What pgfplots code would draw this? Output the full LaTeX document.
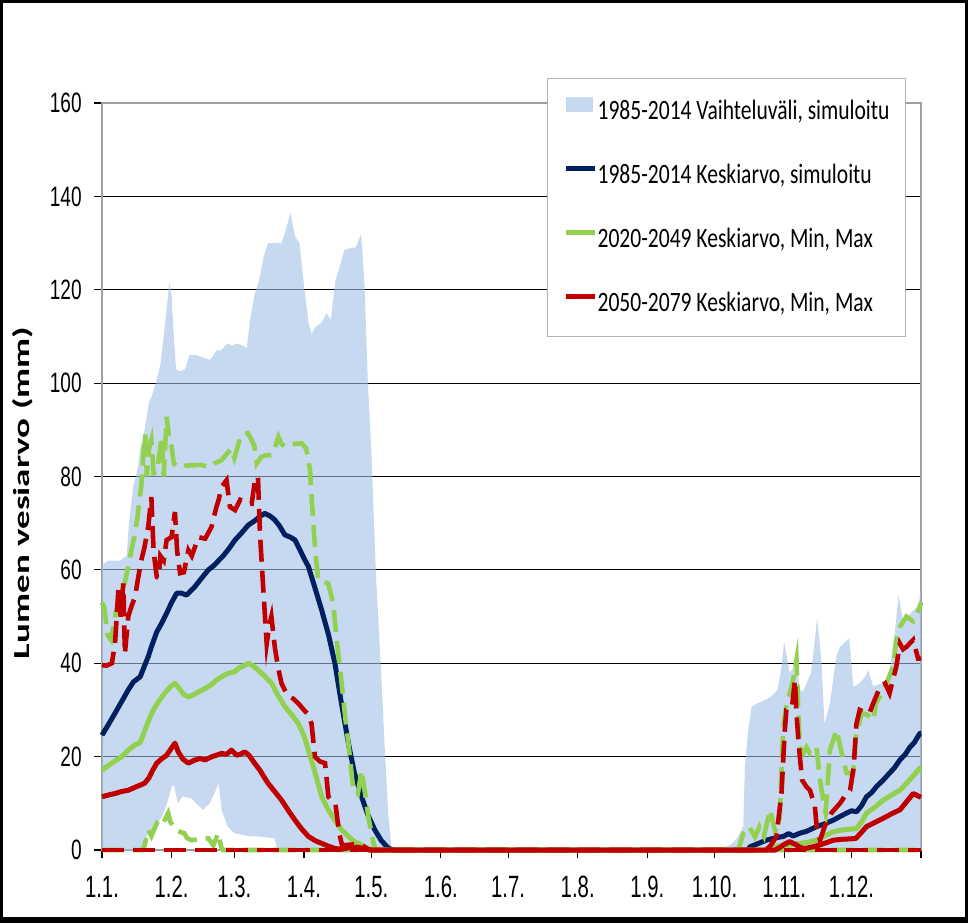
\documentclass[border=0pt]{standalone}
\usepackage{fontspec}
\usepackage{pgfplots}
\pgfplotsset{compat=1.18}
\usepackage{graphicx}
\newfontfamily\tickfont[FakeStretch=0.68]{Liberation Sans}
\newfontfamily\xtickfont[FakeStretch=0.66]{Liberation Sans}
\newfontfamily\legfont[FakeStretch=0.77]{Carlito}
\newfontfamily\ylabfont{Carlito}
\definecolor{fillblue}{RGB}{160,192,232}
\definecolor{navy}{RGB}{0,32,96}
\definecolor{lgreen}{RGB}{146,208,80}
\definecolor{dred}{RGB}{192,0,0}
\pgfplotsset{
  lineleg/.style={legend image code/.code={\draw[##1] (0pt,4.5pt) -- (14.5pt,4.5pt);}},
  fillleg/.style={legend image code/.code={\fill[fillblue, fill opacity=0.6] (0pt,0.75pt) rectangle (13.5pt,8.25pt);}},
  meanline/.style={line width=2.5pt, line join=round, lineleg},
  dashline/.style={line width=2.3pt, dash pattern=on 11pt off 4.5pt, forget plot},
}
\begin{document}
\begin{tikzpicture}
\useasboundingbox (-51pt,-36.5pt) rectangle (433pt,425pt);
\begin{axis}[
  at={(0pt,0pt)}, anchor=south west,
  scale only axis, width=409.5pt, height=373.5pt,
  xmin=0, xmax=365, ymin=0, ymax=160,
  clip=false,
  axis line style={gray!75, line width=0.7pt},
  ymajorgrids, major grid style={black, line width=0.6pt},
  xtick={0,31,59,90,120,151,181,212,243,273,304,334,365},
  xticklabels={1.1.,1.2.,1.3.,1.4.,1.5.,1.6.,1.7.,1.8.,1.9.,1.10.,1.11.,1.12.,{}},
  ytick={0,20,40,60,80,100,120,140,160},
  yticklabels={0,20,40,60,80,100,120,140,160},
  xtick pos=bottom, ytick pos=left,
  tick align=outside, major tick length=4pt,
  tick style={black, line width=0.6pt},
  xticklabel style={font=\xtickfont\fontsize{15.4}{17}\selectfont, inner sep=0pt, yshift=-9pt},
  yticklabel style={font=\tickfont\fontsize{14}{16}\selectfont, inner sep=0pt, xshift=-6pt},
  ylabel={\scalebox{1}[0.62]{\ylabfont\bfseries\fontsize{18.5}{20}\selectfont Lumen vesiarvo (mm)}},
  ylabel style={at={(rel axis cs:-0.0965,0.478)}, anchor=center, inner sep=0pt},
  legend cell align=left,
  legend style={at={(rel axis cs:0.5433,1.0335)}, anchor=north west,
    draw=gray!60, line width=0.6pt, fill=white,
    inner xsep=8pt, inner ysep=9pt, row sep=18.5pt,
    font=\legfont\fontsize{14}{16}\selectfont,
    nodes={inner sep=0pt, text height=10pt, text depth=3.5pt},
    /tikz/every even column/.append style={column sep=0.5pt}},
]
% range fill (spring)
\addplot[draw=none, fill=fillblue, fill opacity=0.6, area legend, fillleg]
coordinates {(0,61) (3,62) (8,62) (11,63) (12,70) (14,78) (16,82) (17,86) (19,90) (21,96) (22,97) (24,100) (26,104) (28,112) (30,121.5) (31,119) (32,110) (33,103) (35,102.5) (37,103) (39,106) (42,106) (45,105.5) (48,105) (49,105.5) (51,107) (53,107) (56,108.5) (58,108) (60,108.5) (63,108) (64.5,107.5) (66,113.5) (68,119) (70,122) (72,127) (74,130) (77,130) (80,130) (82,133) (84,136.5) (86,131.5) (88,130) (90,121) (92,113) (93.5,110.5) (95,112) (98,113) (100,115) (102,113.5) (104,122) (106,125) (108,128.5) (111,129) (113,129) (115.5,132) (117,121) (118.5,100) (120,86) (122,60) (124.6,36) (126,22) (127.5,8) (129,0.5) (130,0)
 (78,0) (77,2.5) (72,2.8) (65,3) (59,3.6) (56,5) (53.3,8.6) (52,14.3) (50,12) (48,10) (45,8.6) (43,9.5) (40,11) (36,11.5) (33.8,10) (32,14) (31,13.5) (29,10) (26.6,7) (24,5) (21,4) (19,2) (17,0) (0,0)};
\addlegendentry{1985-2014 Vaihteluväli, simuloitu}
% range fill (autumn)
\addplot[draw=none, fill=fillblue, fill opacity=0.6, forget plot]
coordinates {(272,0) (276,0.5) (280,1) (283,2.5) (285.8,5) (286.5,18) (288,25.7) (289.5,30.7) (292,31.4) (295,32) (298,32.8) (301,34.3) (302.5,38) (304,44.6) (305,42) (306.5,37.9) (308,39) (309.5,41.4) (311,34.3) (312.5,34) (314,35.7) (316,38) (317,42) (318.7,49.6) (320.6,40.7) (322,27) (324.4,31.4) (326,37) (327.5,42) (329,43.5) (331,44.5) (333,45.3) (334.8,35) (337,35.5) (340,37) (341.5,38.5) (343.7,35) (346,35.5) (349.6,35.7) (351.5,40) (353.4,47) (355,54.6) (357,49) (359,50) (361,51) (363,52) (364,53) (365,56) (365,0)};
% navy mean
\addplot[navy, meanline]
coordinates {(0,24.6) (3,27) (5.8,29.3) (9,32) (11.7,34.3) (14,36) (17,37.1) (19,39.5) (20.6,41.4) (22,43.5) (24.4,46.7) (26.5,48.5) (28.8,50.7) (31,53) (33.3,55) (35.5,55) (37.7,54.6) (39.5,55.5) (41.4,56.4) (44,58) (47.4,60) (50,61) (52,62) (54,63) (56.5,64.5) (59.3,66.4) (62,67.8) (65.2,69.6) (68,70.5) (70.5,71.5) (72.6,72.1) (75,71.5) (77,70.7) (79,69.5) (81.5,67.5) (84,67) (86,66.4) (88,64.5) (90,62.5) (92,60.7) (95,56) (97.9,51.4) (101,46) (103.8,40) (106.5,32) (109.8,22.9) (112.5,16.5) (115.7,11.4) (118.5,7.5) (121.6,4.3) (124.5,2) (127.6,0.4) (130,0) (288,0) (288.8,0.7) (292,1.3) (296,2.1) (300,2.6) (303.6,2.9) (306,3.5) (308,3.0) (311,3.6) (314,4.0) (318.4,5) (322,5.6) (325.9,6.4) (329,7.2) (331.8,7.9) (334,8.4) (336.3,8.2) (338.5,9.5) (340.7,11.4) (343,12.3) (345,13.5) (348.2,15) (351,16.5) (353,17.5) (355.6,19.3) (358,20.5) (360,22) (362,23) (364.5,25) (365,25)};
\addlegendentry{1985-2014 Keskiarvo, simuloitu}
% green mean
\addplot[lgreen, meanline]
coordinates {(0,17.1) (4,18.5) (8.8,20) (12,21.5) (14.7,22.5) (17,23) (19,25.5) (21,28) (22.9,30) (25.5,32) (28,33.6) (30.5,35) (32.5,35.7) (34.5,34.5) (36.5,33.3) (38.5,32.8) (41,33.3) (43.5,34) (46,34.6) (49,35.5) (51,36.4) (53.3,37.1) (56,37.8) (59.3,38.2) (61,39) (63,39.4) (65.2,40) (67.5,39.4) (69.6,38.5) (72,37.5) (75.6,35.7) (78,33.5) (81.5,30.7) (84.5,29) (87.5,27.1) (90,24.5) (92,21.4) (95,16.5) (97.9,11.4) (101,8.5) (103.8,6.4) (106.5,4.5) (109.8,2.9) (112.5,1.8) (115.7,1.1) (118,0.5) (120,0) (296,0) (298,0.7) (304,1.0) (311,1.4) (314,1.6) (318.4,2.1) (322,3.0) (325.9,3.9) (330,4.3) (334,4.5) (336.3,4.6) (338.5,6) (340.7,7.9) (344,9) (348.2,10.7) (352,11.8) (355.6,12.8) (358,14) (361,15.6) (364.5,17.5) (365,17.7)};
\addlegendentry{2020-2049 Keskiarvo, Min, Max}
% green min (dashed)
\addplot[lgreen, dashline]
coordinates {(0,0) (18,0) (19,1) (20.6,4.3) (22,3) (24.4,5.7) (26,5) (28,6.5) (29.5,7.9) (30.5,6) (31.8,5) (34,4) (36.6,3.6) (38,2.5) (40,2.1) (43,2.3) (45,2.5) (47.4,2.5) (49.6,1) (51.8,3.6) (52.5,2) (53.3,0.3) (54,0) (365,0)};
% green max (dashed)
\addplot[lgreen, dashline]
coordinates {(0,53) (1,52) (2.5,46) (4,45) (5.8,50) (8,55) (10,57) (11.7,60.6) (13,64) (14.7,67.8) (16,72) (17.5,78) (18.5,85) (19.3,89) (20,80) (21,86) (22,87.8) (23,80.7) (24.5,81) (26.6,88.5) (27.5,80) (28.8,92.8) (30,88) (31,86.4) (32,82.8) (34,82) (37,82.3) (40,82.4) (44,82.5) (48,82) (50,82.8) (53.3,83.5) (55,84.5) (57.7,86) (59,84) (62,88.9) (65,89.3) (66.5,88) (68,86.4) (69,82.8) (71,84.2) (73,84.5) (75.6,84.6) (77,86) (78.6,88.5) (80,87) (81.5,86.4) (83,86.8) (86,87) (89,87.1) (91,86) (92.7,81.4) (93.5,75) (95,64.2) (96.4,57.8) (98.5,57.5) (100.8,57.1) (103,52.9) (104.6,45) (106.8,35.7) (108.5,28) (109.8,22.9) (112,12.8) (114,12) (115.7,17.1) (117,13) (118.7,7.1) (121,1.4) (122,0) (283,0) (284,0.7) (285.8,3.6) (288.5,5) (291,2.8) (293,5) (295,3) (297.7,8.6) (300,4) (302,6.4) (303.6,26.4) (305,30.7) (308,36.4) (309.5,40.7) (310.3,30) (311,22) (312.5,20.7) (314,22) (315.5,20.7) (318.4,22) (320,15) (321.4,10.7) (322.5,8) (324.4,21.4) (327.4,25.7) (330,20) (331.8,16.5) (334.8,16.5) (336,24.3) (338.5,29.3) (341,29) (343.7,27.8) (345,31.5) (347.5,33.5) (349.6,35.7) (352.6,39.3) (354,45) (355.6,47.8) (358.5,50) (361.5,49) (364.5,52) (365,53)};
% red min (dashed)
\addplot[dred, dashline]
coordinates {(0,0) (365,0)};
% red max (dashed)
\addplot[dred, dashline]
coordinates {(0,39.6) (2,39.5) (4.4,40) (5.8,44.2) (7.3,55.7) (8.3,50) (9.5,57.1) (10.2,42) (11.7,50) (13,52) (14.7,54.2) (16.2,58.5) (17.5,62) (19,65) (20.6,69.2) (22,75.6) (23,64) (24.4,58.5) (25.3,58.3) (26,63) (27.5,62) (28.8,66.4) (31,67) (32.5,72.4) (33.5,64) (34.8,59.3) (36.5,59.5) (38.5,64.2) (40,63) (43,67) (46,66.7) (48.8,69.2) (51,73.5) (52,75) (53.3,77.8) (55.5,79.2) (57,73.5) (59.3,72.8) (61.6,75) (64,74.5) (66.7,74.2) (68.2,79.2) (69.5,80) (70.4,67.8) (71.9,55.7) (73.4,44.2) (74.5,48) (75.5,50) (77,43.5) (78.5,39) (80,35.7) (82.2,33.5) (85,32.5) (87.5,31.4) (90,30) (92,29) (93.4,27) (94.9,20) (97,19) (99.4,18.6) (100.9,11.4) (102.5,10.5) (104,10) (105.7,3.6) (107,1) (112,1.2) (116,1) (119,0) (296,0) (298,1) (300.6,2.9) (302.8,12.1) (304.3,25.7) (305,30) (307.5,30.5) (308.8,36.4) (309.5,29.3) (310.3,24) (311,20) (312,15) (314,13.5) (315.5,12.8) (317,10.5) (317.7,9.3) (318.5,5) (320,2.1) (322,5) (325,7.9) (328.9,10) (331,11.5) (333.4,12.8) (335,17.8) (336.2,27) (337.7,30) (340,29.5) (342,29.3) (343.7,31.4) (346.8,35) (349,35.7) (351,33.6) (354,39.3) (355.6,44.2) (357,43) (358.5,43.5) (361.5,45) (363.7,41) (365,41)};
% red mean
\addplot[dred, meanline]
coordinates {(0,11.4) (3,11.8) (5.8,12.1) (8.5,12.5) (11.7,12.8) (15,13.5) (19,14.3) (21,15.5) (22.5,17) (24.4,18.6) (26.5,19.5) (28.8,20.3) (30.5,21.5) (32.5,22.9) (34,21) (36,19.5) (38.5,18.6) (41,19.2) (43.5,19.6) (46,19.3) (49,20) (51,20.3) (53.3,20.7) (55.5,20.5) (57.7,21.4) (60,20.3) (61.5,20.5) (63.7,21) (65.5,20.3) (68,18.6) (70.5,17) (72,15.8) (74,14.3) (77,12.5) (80,10.7) (83,8.5) (86,6.4) (89,4.5) (92,2.9) (95,2) (98,1.4) (101,0.8) (104,0.3) (107,0.2) (110,0.5) (114,0.6) (117,0.3) (120,0) (300,0) (302,0.5) (304,1.2) (306.5,1.8) (309,1.2) (311,0.6) (313,0.3) (316,0.6) (320,1.1) (323,1.6) (325.9,2.1) (330,2.3) (334,2.4) (336,2.5) (338.5,3.8) (340.7,5) (344,5.8) (348.2,6.8) (352,7.8) (355.6,8.6) (358,10) (361.5,12.1) (364.5,11.4) (365,11.3)};
\addlegendentry{2050-2079 Keskiarvo, Min, Max}
\end{axis}
\draw[black, line width=1.6pt] (-50.2pt,-35.7pt) rectangle (432.2pt,424.2pt);
\draw[black, line width=3pt] (-51pt,-35pt) -- (433pt,-35pt);
\end{tikzpicture}
\end{document}
